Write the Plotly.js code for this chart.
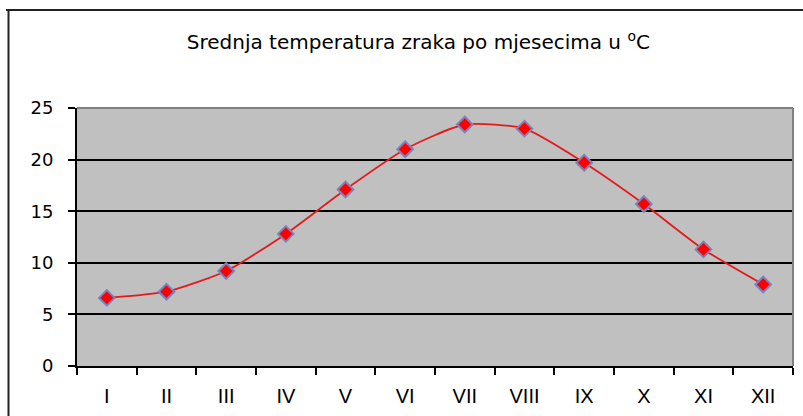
<!DOCTYPE html>
<html>
<head>
<meta charset="utf-8">
<script src="https://cdn.plot.ly/plotly-3.0.1.min.js"></script>
<style>html,body{margin:0;padding:0;background:#fff;}#chart{width:803px;height:416px;}</style>
</head>
<body>
<div id="chart"></div>
<script>
var months = ["I","II","III","IV","V","VI","VII","VIII","IX","X","XI","XII"];
var temps = [6.6, 7.2, 9.2, 12.8, 17.1, 21.0, 23.4, 23.0, 19.7, 15.7, 11.3, 7.9];
var yTicks = [0, 5, 10, 15, 20, 25];
var titleText = "Srednja temperatura zraka po mjesecima u <sup>o</sup>C";

var W = 803, H = 416;
var L = 77, R = 10, T = 108, B = 50;
var pw = W - L - R, ph = H - T - B;
function px(x){ return (x - L) / pw; }
function py(y){ return (H - B - y) / ph; }

var trace = {
  x: months, y: temps, type: "scatter", mode: "lines+markers",
  line: {color: "#e41a1a", width: 1.8, shape: "spline", smoothing: 0.6},
  marker: {symbol: "diamond", size: 12, color: "#ff0000", line: {color: "#7884c0", width: 2}},
  hoverinfo: "x+y"
};

var layout = {
  width: W, height: H,
  margin: {l: L, r: R, t: T, b: B, pad: 0},
  paper_bgcolor: "#ffffff",
  plot_bgcolor: "#c0c0c0",
  showlegend: false,
  title: {text: titleText, x: 0.521, xanchor: "center", y: 1 - 42/H, yanchor: "middle",
          font: {family: "DejaVu Sans, Liberation Sans, Arial", size: 20, color: "#000"}},
  xaxis: {
    type: "category", range: [-0.5, 11.5], tickson: "boundaries",
    ticks: "outside", ticklen: 7, tickwidth: 2, tickcolor: "#000",
    showline: true, linecolor: "#000", linewidth: 2,
    showgrid: false, zeroline: false, fixedrange: true,
    ticklabelstandoff: 11,
    tickfont: {family: "Liberation Sans, Arial", size: 20, color: "#000"}
  },
  yaxis: {
    range: [0, 25], tickvals: yTicks, ticktext: yTicks.map(String),
    ticks: "outside", ticklen: 7, tickwidth: 2, tickcolor: "#000",
    showline: true, linecolor: "#000", linewidth: 2,
    showgrid: true, gridcolor: "#000", gridwidth: 2,
    zeroline: false, fixedrange: true,
    ticklabelstandoff: 11,
    tickfont: {family: "DejaVu Sans, Liberation Sans, Arial", size: 18, color: "#000"}
  },
  shapes: [
    {type: "line", xref: "paper", yref: "paper", x0: 0, x1: 1, y0: 1, y1: 1,
     line: {color: "#808080", width: 2}, layer: "above"},
    {type: "line", xref: "paper", yref: "paper", x0: 1, x1: 1, y0: 0, y1: 1,
     line: {color: "#808080", width: 2}, layer: "above"},
    {type: "line", xref: "paper", yref: "paper", x0: px(6), x1: px(805), y0: py(10), y1: py(10),
     line: {color: "#222", width: 2}, layer: "above"},
    {type: "line", xref: "paper", yref: "paper", x0: px(8.5), x1: px(8.5), y0: py(9), y1: py(420),
     line: {color: "#222", width: 2}, layer: "above"}
  ]
};

Plotly.newPlot("chart", [trace], layout, {displayModeBar: false, staticPlot: true});
</script>
</body>
</html>
